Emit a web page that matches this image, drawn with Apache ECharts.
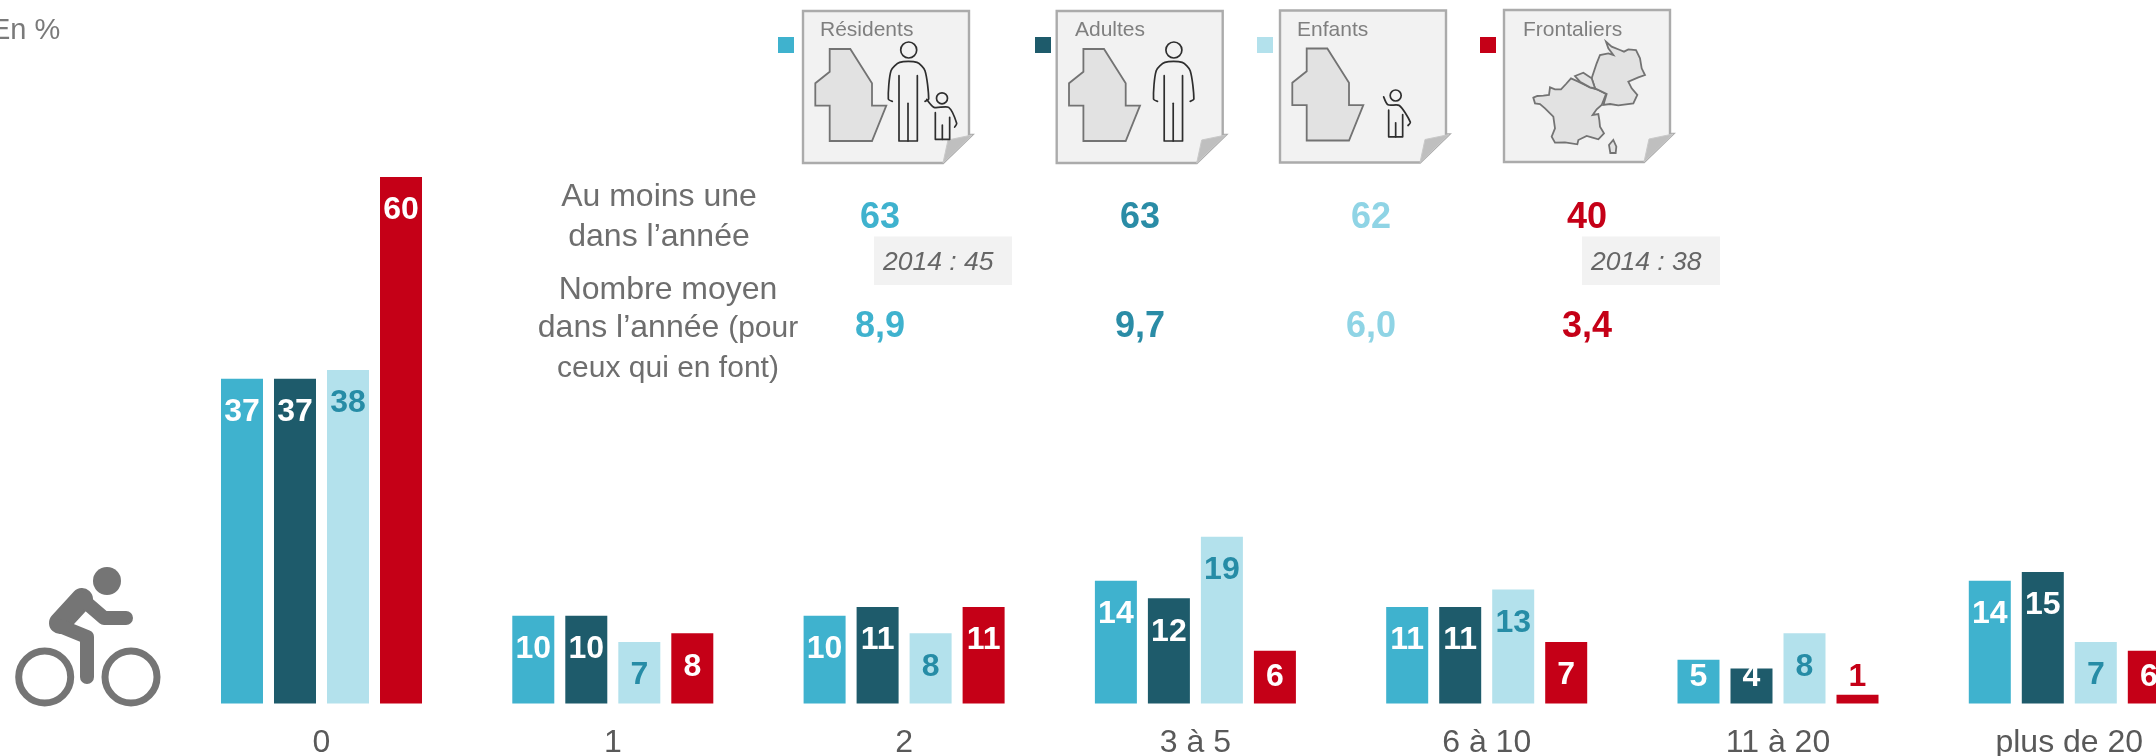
<!DOCTYPE html>
<html lang="fr">
<head>
<meta charset="utf-8">
<title>Pratique du vélo</title>
<style>html,body{margin:0;padding:0;background:#fff;overflow:hidden}#c{width:2156px;height:756px}</style>
<script src="https://cdn.jsdelivr.net/npm/echarts@6/dist/echarts.min.js"></script>
</head>
<body>
<div id="c"></div>
<script>
const categories = ['0', '1', '2', '3 à 5', '6 à 10', '11 à 20', 'plus de 20'];
const residents   = [37, 10, 10, 14, 11, 5, 14];
const adults      = [37, 10, 11, 12, 11, 4, 15];
const children    = [38, 7, 8, 19, 13, 8, 7];
const crossBorder = [60, 8, 11, 6, 7, 1, 6];
const seriesNames = ['Résidents', 'Adultes', 'Enfants', 'Frontaliers'];
const atLeastOnce = ['63', '63', '62', '40'];
const averageCount = ['8,9', '9,7', '6,0', '3,4'];
const previous2014 = ['2014 : 45', '2014 : 38'];

const FONT = '"Liberation Sans", Arial, sans-serif';
const barColors = ['#3FB2CE', '#1E5B6B', '#B3E1EC', '#C50017'];
const statColors = ['#3FB2CE', '#2A8CA6', '#8FD4E5', '#C50017'];
const labelColors = ['#FFFFFF', '#FFFFFF', '#268CA6', '#FFFFFF'];
const gridTop = 177, gridH = 526.5, yMax = 60;
const pxPerUnit = gridH / yMax, base = gridTop + gridH;

function items(values, si) {
  return values.map(v => {
    const h = v * pxPerUnit, top = base - h;
    const target = Math.min(top + 33.5, 677);
    const shortBar = v < 2;
    return {
      value: v,
      label: {
        offset: [0, target - (base - h / 2)],
        color: shortBar ? barColors[si] : labelColors[si]
      }
    };
  });
}

const gText = (text, x, y, size, color, extra) => ({
  type: 'text', x, y, silent: true, z: 5,
  style: Object.assign({ text, fontSize: size, fontFamily: FONT, fill: color, align: 'center', verticalAlign: 'middle' }, extra || {})
});

// --- decorative page icons
const pageStyle = { fill: '#F2F2F2', stroke: '#ABABAB', lineWidth: 2.4 };
const lux = [[26.7,38],[47.3,38],[69,72.3],[69,94.7],[83.3,94.7],[69,130],[26.7,130],[26.7,94.7],[12.3,94.7],[12.3,72.3],[26.7,60.7]];
const mapStyle = { fill: '#E2E2E2', stroke: '#737373', lineWidth: 1.8 };
const iconStroke = { fill: 'none', stroke: '#2E2E2E', lineWidth: 1.7, lineCap: 'round', lineJoin: 'round' };

function poly(points, style, z) {
  return { type: 'polygon', silent: true, z: z || 1, shape: { points }, style };
}
function line(points, style, smooth) {
  return { type: 'polyline', silent: true, z: 2, shape: { points, smooth: smooth || 0 }, style: style || iconStroke };
}
function circle(cx, cy, r, style) {
  return { type: 'circle', silent: true, z: 2, shape: { cx, cy, r }, style: style || iconStroke };
}
function page(x, y, kids) {
  return {
    type: 'group', x, y, silent: true,
    children: [
      poly([[0,0],[166,0],[166,124],[169,124],[140,152],[0,152]], pageStyle, 1),
      poly([[169,124],[145,129],[140,152]], { fill: '#BFBFBF', stroke: '#C9C9C9', lineWidth: 1 }, 2)
    ].concat(kids || [])
  };
}
const toPage = (pts, ox, oy) => pts.map(p => [(p[0] - ox) / 3, (p[1] - oy) / 3]);

function adult(dx) {
  const f = pts => toPage(pts, 70 - dx * 3, 33);
  return [
    circle(105.7 + dx, 39, 8),
    line(f([[338,304],[326,297],[334,212],[360,187],[412,187],[436,212],[447,297],[436,304]]), null, 0.25),
    line(f([[358,227],[358,423],[413,423],[413,227]])),
    line(f([[385,310],[385,423]]))
  ];
}
function childHolding() {
  const f = pts => toPage(pts, 70, 33);
  return [
    circle((487 - 70) / 3, (295 - 33) / 3, 5.5),
    line(f([[441,298],[463,322],[507,322],[531,370],[525,381]]), null, 0.25),
    line(f([[467,338],[467,418],[510,418],[510,352]])),
    line(f([[488,375],[488,418]]))
  ];
}
function childWaving() {
  const f = pts => toPage(pts, 120, 33);
  return [
    circle((467 - 120) / 3, (288 - 33) / 3, 5.5),
    line(f([[431,292],[444,316],[478,318],[511,368],[504,378]]), null, 0.25),
    line(f([[446,332],[446,412],[488,412],[488,345]])),
    line(f([[467,370],[467,412]]))
  ];
}
const f10 = pts => toPage(pts, 12, 30);
const france = [[100,293],[112,288],[130,287],[147,285],[150,262],[165,268],[183,268],[198,252],[213,235],[235,245],[270,262],[295,270],[318,282],[311,300],[305,315],[290,328],[278,345],[295,342],[298,360],[300,380],[312,400],[295,418],[275,412],[260,408],[235,420],[232,433],[195,427],[165,428],[155,410],[165,385],[160,350],[135,325],[120,312],[105,310]];
const germany = [[318,125],[335,140],[360,150],[372,155],[385,148],[408,150],[420,175],[425,205],[435,225],[415,232],[385,245],[395,265],[412,285],[400,310],[355,316],[330,312],[310,315],[320,282],[285,265],[275,235],[290,190],[300,165],[325,160],[340,165],[325,145]];
const belgium = [[225,228],[250,218],[275,235],[285,265],[270,262],[240,245]];
const corsica = [[340,420],[349,440],[347,459],[331,459],[327,435]];

const pages = [
  page(803, 11, [poly(lux, mapStyle, 2)].concat(adult(0), childHolding())),
  page(1056.7, 11, [poly(lux, mapStyle, 2)].concat(adult(11.5))),
  page(1280, 10.5, [poly(lux, mapStyle, 2)].concat(childWaving())),
  page(1504, 10, [poly(f10(france), mapStyle, 2), poly(f10(germany), mapStyle, 2), poly(f10(belgium), mapStyle, 2), poly(f10(corsica), mapStyle, 2)])
];

// --- bicycle pictogram
const bikeGrey = '#757575';
const bikeLine = w => ({ fill: 'none', stroke: bikeGrey, lineWidth: w, lineCap: 'round', lineJoin: 'round' });
const bike = [
  circle(107, 581, 14, { fill: bikeGrey }),
  circle(44.7, 677, 26, { fill: 'none', stroke: bikeGrey, lineWidth: 7 }),
  circle(131, 677, 26, { fill: 'none', stroke: bikeGrey, lineWidth: 7 }),
  line([[82,599],[60,623]], bikeLine(22)),
  line([[60,626],[87,637],[87,677]], bikeLine(14)),
  line([[82,599],[104,618],[126,618]], bikeLine(14))
];

// --- stats
const statX = [880, 1140, 1371, 1587];
const labelStyle = '#6E6E6E';
const stats = [];
statX.forEach((x, i) => {
  stats.push(gText(atLeastOnce[i], x, 218.5, 36, statColors[i], { fontWeight: 'bold' }));
  stats.push(gText(averageCount[i], x, 327, 36, statColors[i], { fontWeight: 'bold' }));
});
const compareBoxes = [[874, previous2014[0]], [1582, previous2014[1]]];
compareBoxes.forEach(([x, t]) => {
  stats.push({ type: 'rect', silent: true, z: 1, shape: { x, y: 236.5, width: 138, height: 48.5 }, style: { fill: '#F2F2F2' } });
  stats.push(gText(t, x + 9, 263, 26.5, '#666666', { align: 'left', fontStyle: 'italic' }));
});
const captions = [
  gText('Au moins une', 659, 197.5, 32, labelStyle),
  gText('dans l’année', 659, 237, 32, labelStyle),
  gText('Nombre moyen', 668, 290.5, 32, labelStyle),
  gText('dans l’année {s|(pour}', 668, 328.5, 32, labelStyle, { rich: { s: { fontSize: 30, fontFamily: FONT, fill: labelStyle } } }),
  gText('ceux qui en font)', 668, 368.5, 30, labelStyle),
  gText('En %', -9, 31, 29, '#7A7A7A', { align: 'left' })
];

const legendSpots = [[778, 21], [1035, 19], [1257, 19], [1480, 22]];
const chart = echarts.init(document.getElementById('c'), null, { renderer: 'canvas' });
chart.setOption({
  animation: false,
  backgroundColor: '#FFFFFF',
  textStyle: { fontFamily: FONT },
  tooltip: { show: false },
  legend: seriesNames.map((n, i) => ({
    data: [n], left: legendSpots[i][0], top: 14.5, padding: 0, orient: 'horizontal',
    selectedMode: false, icon: 'rect', itemWidth: 16, itemHeight: 16, z: 6,
    formatter: name => name + '\n ',
    textStyle: { color: '#7F7F7F', fontSize: 21, lineHeight: 30.5, fontFamily: FONT, padding: [0, 0, 0, legendSpots[i][1]] }
  })),
  grid: { left: 175.85, top: gridTop, width: 2039.1, height: gridH, outerBoundsMode: 'none' },
  xAxis: {
    type: 'category', data: categories,
    axisLine: { show: false }, axisTick: { show: false },
    axisLabel: { color: '#595959', fontSize: 32, margin: 24, fontFamily: FONT, interval: 0 }
  },
  yAxis: { type: 'value', min: 0, max: yMax, show: false, splitLine: { show: false } },
  graphic: { elements: pages.concat(bike, stats, captions) },
  series: [residents, adults, children, crossBorder].map((vals, i) => ({
    name: seriesNames[i], type: 'bar', barWidth: 42, barGap: '26.2%',
    itemStyle: { color: barColors[i] },
    label: { show: true, position: 'inside', fontSize: 32, fontWeight: 'bold', fontFamily: FONT, textBorderWidth: 0 },
    data: items(vals, i)
  }))
});
</script>
</body>
</html>
